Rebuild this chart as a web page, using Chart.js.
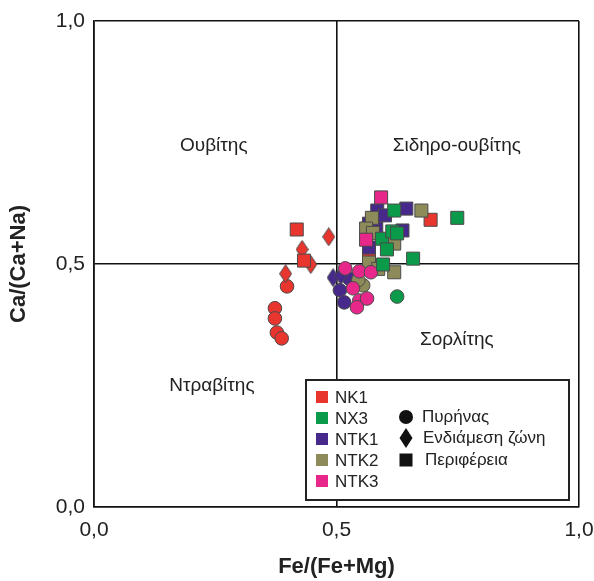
<!DOCTYPE html>
<html>
<head>
<meta charset="utf-8">
<script src="https://cdn.jsdelivr.net/npm/chart.js@4.4.1/dist/chart.umd.min.js"></script>
<style>
  html, body { margin: 0; padding: 0; background: #fff; }
  #wrap { width: 594px; height: 581px; }
</style>
</head>
<body>
<div id="wrap"><canvas id="chart"></canvas></div>
<script>
// sample names and zone names (legend)
const sampleNames = ['NK1', 'NX3', 'NTK1', 'NTK2', 'NTK3'];
const sampleColors = ['#e8352e', '#0b9a4a', '#46298a', '#8e8b5b', '#e8278b'];
const zoneNames = ['Πυρήνας', 'Ενδιάμεση ζώνη', 'Περιφέρεια'];
const fieldNames = ['Ουβίτης', 'Σιδηρο-ουβίτης', 'Σορλίτης', 'Ντραβίτης'];
const tickValues = [0, 0.5, 1];

// [Fe/(Fe+Mg), Ca/(Ca+Na)] per sample and zone
const nk1Core = [[0.373, 0.409], [0.373, 0.388], [0.377, 0.359], [0.387, 0.347], [0.398, 0.454]];
const nk1Mid = [[0.484, 0.556], [0.429, 0.530], [0.447, 0.499], [0.395, 0.480]];
const nk1Rim = [[0.418, 0.571], [0.433, 0.507], [0.694, 0.591], [0.567, 0.524]];

const nx3Core = [[0.625, 0.433]];
const nx3Mid = [];
const nx3Rim = [[0.749, 0.595], [0.658, 0.511], [0.619, 0.610], [0.594, 0.552], [0.615, 0.567],
                [0.625, 0.563], [0.604, 0.530], [0.596, 0.499]];

const ntk1Core = [[0.507, 0.446], [0.516, 0.421], [0.526, 0.470]];
const ntk1Mid = [[0.493, 0.472], [0.509, 0.476]];
const ntk1Rim = [[0.644, 0.614], [0.584, 0.610], [0.567, 0.583], [0.582, 0.573], [0.567, 0.534],
                 [0.636, 0.569], [0.600, 0.600]];

const ntk2Core = [[0.555, 0.456], [0.545, 0.467]];
const ntk2Mid = [];
const ntk2Rim = [[0.573, 0.595], [0.561, 0.573], [0.567, 0.503], [0.675, 0.610], [0.619, 0.483],
                 [0.619, 0.542], [0.575, 0.564], [0.586, 0.490]];

const ntk3Core = [[0.518, 0.491], [0.547, 0.485], [0.571, 0.483], [0.534, 0.450], [0.547, 0.425],
                  [0.563, 0.429], [0.542, 0.411]];
const ntk3Mid = [];
const ntk3Rim = [[0.592, 0.637], [0.561, 0.550]];

const sampleData = [
  [nk1Core, nk1Mid, nk1Rim],
  [nx3Core, nx3Mid, nx3Rim],
  [ntk1Core, ntk1Mid, ntk1Rim],
  [ntk2Core, ntk2Mid, ntk2Rim],
  [ntk3Core, ntk3Mid, ntk3Rim]
];

const FONT = "'Liberation Sans', Arial, sans-serif";
const EDGE = '#4a4a4a';
// stacking: NK1 at the bottom, NX3 on top (lower order is drawn on top)
const stackRank = [5, 1, 4, 3, 2];

// tall diamond marker
function diamond(color, w, h) {
    const c = document.createElement('canvas');
    c.width = w;
    c.height = h;
    const g = c.getContext('2d');
    g.beginPath();
    g.moveTo(w / 2, 0.5);
    g.lineTo(w - 0.5, h / 2);
    g.lineTo(w / 2, h - 0.5);
    g.lineTo(0.5, h / 2);
    g.closePath();
    g.fillStyle = color;
    g.fill();
    g.strokeStyle = EDGE;
    g.lineWidth = 1;
    g.stroke();
    return c;
}

const datasets = [];
sampleNames.forEach((name, i) => {
    const color = sampleColors[i];
    const [core, mid, rim] = sampleData[i];
    const base = stackRank[i] * 3;
    datasets.push({
        label: name + ' ' + zoneNames[2],
        data: rim.map(p => ({ x: p[0], y: p[1] })),
        order: base,
        pointStyle: 'rect', pointRadius: 9.2,
        backgroundColor: color, borderColor: EDGE, borderWidth: 1
    });
    datasets.push({
        label: name + ' ' + zoneNames[1],
        data: mid.map(p => ({ x: p[0], y: p[1] })),
        order: base + 1,
        pointStyle: diamond(color, 13, 19), pointRadius: 9,
        backgroundColor: color, borderColor: EDGE, borderWidth: 1
    });
    datasets.push({
        label: name + ' ' + zoneNames[0],
        data: core.map(p => ({ x: p[0], y: p[1] })),
        order: base + 2,
        pointStyle: 'circle', pointRadius: 6.8,
        backgroundColor: color, borderColor: EDGE, borderWidth: 1
    });
});

// field names inside the quadrants
const fieldPlugin = {
    id: 'fields',
    beforeDatasetsDraw(chart) {
        const { ctx, scales: { x, y } } = chart;
        const spots = [[0.247, 0.743], [0.748, 0.743], [0.748, 0.345], [0.243, 0.250]];
        ctx.save();
        ctx.font = '19px ' + FONT;
        ctx.fillStyle = '#222';
        ctx.textAlign = 'center';
        ctx.textBaseline = 'middle';
        fieldNames.forEach((t, i) => {
            ctx.fillText(t, x.getPixelForValue(spots[i][0]), y.getPixelForValue(spots[i][1]));
        });
        ctx.restore();
    }
};

// boxed legend: colours on the left, zone shapes on the right
const legendPlugin = {
    id: 'boxLegend',
    afterDraw(chart) {
        const ctx = chart.ctx;
        const left = 306, top = 380, w = 263, h = 120;
        ctx.save();
        ctx.fillStyle = '#fff';
        ctx.fillRect(left, top, w, h);
        ctx.strokeStyle = '#222';
        ctx.lineWidth = 2;
        ctx.strokeRect(left, top, w, h);

        ctx.font = '17px ' + FONT;
        ctx.textBaseline = 'middle';
        ctx.textAlign = 'left';
        sampleNames.forEach((name, i) => {
            const cy = top + 17 + i * 21;
            ctx.fillStyle = sampleColors[i];
            ctx.fillRect(left + 10, cy - 6, 12, 12);
            ctx.fillStyle = '#222';
            ctx.fillText(name, left + 29, cy + 1);
        });

        const sx = left + 100;
        ctx.fillStyle = '#111';
        // circle
        let cy = top + 37;
        ctx.beginPath();
        ctx.arc(sx, cy, 7, 0, Math.PI * 2);
        ctx.fill();
        // diamond
        cy = top + 58;
        ctx.beginPath();
        ctx.moveTo(sx, cy - 10);
        ctx.lineTo(sx + 6.5, cy);
        ctx.lineTo(sx, cy + 10);
        ctx.lineTo(sx - 6.5, cy);
        ctx.closePath();
        ctx.fill();
        // square
        cy = top + 80;
        ctx.fillRect(sx - 6.5, cy - 6.5, 13, 13);

        ctx.fillStyle = '#222';
        ctx.fillText(zoneNames[0], sx + 16, top + 37);
        ctx.fillText(zoneNames[1], sx + 17, top + 58);
        ctx.fillText(zoneNames[2], sx + 19, top + 80);
        ctx.restore();
    }
};

const fmt = v => v.toFixed(1).replace('.', ',');

new Chart(document.getElementById('chart'), {
    type: 'scatter',
    data: { datasets: datasets },
    options: {
        responsive: true,
        maintainAspectRatio: false,
        animation: false,
        layout: { padding: { top: 21, right: 15, left: 0, bottom: 0 } },
        plugins: {
            legend: { display: false },
            tooltip: { enabled: false }
        },
        scales: {
            x: {
                type: 'linear',
                min: 0, max: 1,
                afterFit: s => {
                    s.height = 74;
                    s.paddingLeft = 0;
                    s.paddingRight = 0;
                },
                afterBuildTicks: s => { s.ticks = tickValues.map(v => ({ value: v })); },
                ticks: {
                    callback: fmt,
                    padding: 11,
                    color: '#222',
                    font: { family: FONT, size: 21 },
                    maxRotation: 0
                },
                grid: { color: '#111', lineWidth: 1.6, drawTicks: false },
                border: { color: '#111', width: 1.6 },
                title: {
                    display: true,
                    text: 'Fe/(Fe+Mg)',
                    color: '#222',
                    font: { family: FONT, size: 22, weight: 'bold' },
                    padding: { top: 0, bottom: 1 }
                }
            },
            y: {
                type: 'linear',
                min: 0, max: 1,
                afterFit: s => {
                    s.width = 94;
                    s.paddingTop = 0;
                    s.paddingBottom = 0;
                },
                afterBuildTicks: s => { s.ticks = tickValues.map(v => ({ value: v })); },
                ticks: {
                    callback: fmt,
                    padding: 9,
                    color: '#222',
                    font: { family: FONT, size: 21 }
                },
                grid: { color: '#111', lineWidth: 1.6, drawTicks: false },
                border: { color: '#111', width: 1.6 },
                title: {
                    display: true,
                    text: 'Ca/(Ca+Na)',
                    color: '#222',
                    font: { family: FONT, size: 22, weight: 'bold' },
                    padding: { top: 6, bottom: 0 }
                }
            }
        }
    },
    plugins: [fieldPlugin, legendPlugin]
});
</script>
</body>
</html>
